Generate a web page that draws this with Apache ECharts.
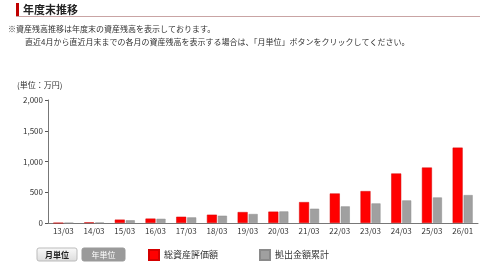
<!DOCTYPE html>
<html>
<head>
<meta charset="utf-8">
<script src="https://cdn.jsdelivr.net/npm/echarts@6/dist/echarts.min.js"></script>
<style>
html, body { margin: 0; padding: 0; background: #fff; }
#main { width: 480px; height: 262px; }
</style>
</head>
<body>
<div id="main"></div>
<script>
// 年度末の資産残高
var categories = ['13/03', '14/03', '15/03', '16/03', '17/03', '18/03', '19/03', '20/03', '21/03', '22/03', '23/03', '24/03', '25/03', '26/01'];
var totalAssets = [0, 10, 55, 72, 102, 135, 178, 185, 340, 480, 519, 805, 902, 1226];   // 総資産評価額
var contributions = [0, 5, 44, 68, 91, 118, 146, 188, 232, 270, 318, 367, 415, 454]; // 拠出金額累計
var yTicks = [0, 500, 1000, 1500, 2000];

var font = '"Noto Sans CJK JP", sans-serif';
var myChart = echarts.init(document.getElementById('main'));

myChart.setOption({
	animation: false,
	textStyle: { fontFamily: font },
	grid: { left: 48, right: 2, top: 100, bottom: 39 },
	legend: {
		left: 148,
		top: 249,
		padding: 0,
		itemWidth: 10,
		itemHeight: 10,
		itemGap: 41,
		icon: 'rect',
		textStyle: { fontSize: 9, color: '#333', fontFamily: font },
		data: ['総資産評価額', '拠出金額累計']
	},
	xAxis: {
		type: 'category',
		data: categories,
		axisLine: { lineStyle: { color: '#777' } },
		axisTick: { alignWithLabel: true, length: 3, lineStyle: { color: '#555' } },
		axisLabel: { fontSize: 8, color: '#333', margin: 4 }
	},
	yAxis: {
		type: 'value',
		min: yTicks[0],
		max: yTicks[yTicks.length - 1],
		interval: 500,
		splitLine: { show: false },
		axisLine: { show: true, lineStyle: { color: '#777' } },
		axisTick: { show: true, length: 3, lineStyle: { color: '#555' } },
		axisLabel: {
			fontSize: 8,
			color: '#333',
			margin: 5,
			formatter: function (v) { return v.toLocaleString('en-US'); }
		}
	},
	series: [{
		name: '総資産評価額',
		type: 'bar',
		data: totalAssets,
		barWidth: 10,
		barGap: '10%',
		itemStyle: { color: '#ff0000', borderColor: '#d40000', borderWidth: 0.5 }
	}, {
		name: '拠出金額累計',
		type: 'bar',
		data: contributions,
		barWidth: 9,
		itemStyle: { color: '#a0a0a0', borderColor: '#8a8a8a', borderWidth: 0.5 }
	}],
	graphic: [
		// 見出し
		{ type: 'rect', shape: { x: 16, y: 3, width: 3, height: 14 }, style: { fill: '#c00000' } },
		{ type: 'rect', shape: { x: 16, y: 16, width: 464, height: 1 }, style: { fill: '#c9a4a4' } },
		{ type: 'text', left: 23, top: 4, style: { text: '年度末推移', font: 'bold 11px ' + font, fill: '#222' } },
		// 注記
		{ type: 'text', left: 8, top: 25, style: { text: '※資産残高推移は年度末の資産残高を表示しております。', font: '8px ' + font, fill: '#333' } },
		{ type: 'text', left: 25, top: 38, style: { text: '直近4月から直近月末までの各月の資産残高を表示する場合は、「月単位」ボタンをクリックしてください。', font: '8px ' + font, fill: '#333' } },
		{ type: 'text', left: 17, top: 81, style: { text: '(単位：万円)', font: '8px ' + font, fill: '#333' } },
		// ボタン
		{ type: 'rect', shape: { x: 37, y: 248, width: 40, height: 13, r: 2 },
		  style: { fill: new echarts.graphic.LinearGradient(0, 0, 0, 1, [{ offset: 0, color: '#fafafa' }, { offset: 1, color: '#dcdcdc' }]), stroke: '#bbb', lineWidth: 1 } },
		{ type: 'text', x: 57, y: 254.5, style: { text: '月単位', font: 'bold 8px ' + font, fill: '#222', align: 'center', verticalAlign: 'middle' } },
		{ type: 'rect', shape: { x: 82, y: 248, width: 43, height: 13, r: 2 }, style: { fill: '#9a9a9a', stroke: '#999', lineWidth: 1 } },
		{ type: 'text', x: 103.5, y: 254.5, style: { text: '年単位', font: '8px ' + font, fill: '#fff', align: 'center', verticalAlign: 'middle' } }
	]
});
</script>
</body>
</html>
